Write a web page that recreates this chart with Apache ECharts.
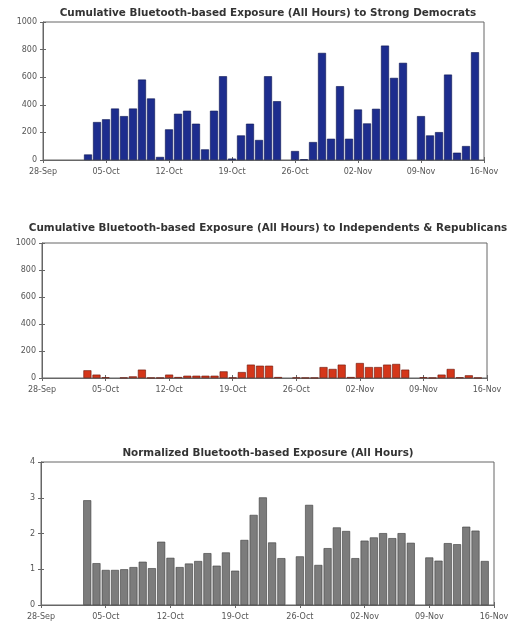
<!DOCTYPE html>
<html>
<head>
<meta charset="utf-8">
<script src="https://cdn.jsdelivr.net/npm/echarts@6/dist/echarts.min.js"></script>
<style>
  html, body { margin: 0; padding: 0; background: #fff; }
  #chart { width: 519px; height: 630px; }
</style>
</head>
<body>
<div id="chart"></div>
<script>
// Days are counted from 28-Sep; the first reading is on day 5 (03-Oct).
const firstDay = 5;
const weekTickLabels = ['28-Sep', '05-Oct', '12-Oct', '19-Oct', '26-Oct', '02-Nov', '09-Nov', '16-Nov'];

// Cumulative exposure to strong Democrats, one value per day (null = no data)
const democratExposure = [
  40, 275, 295, 373, 318, 373, 583, 446, 22, 222, 335, 357, 263, 77, 357, 607, 10,
  178, 263, 145, 607, 426, null, 65, 5, 130, 776, 154, 535, 154, 366, 265, 371,
  829, 595, 704, null, 318, 178, 202, 619, 53, 101, 781
];

// Cumulative exposure to independents & republicans
const otherExposure = [
  57, 25, 5, null, 3, 12, 62, 2, 2, 25, 7, 17, 17, 17, 17, 49, 3,
  44, 99, 91, 91, 7, null, 3, 2, 2, 81, 67, 99, 7, 111, 81, 81,
  99, 104, 62, null, 5, 2, 25, 67, 5, 20, 2
];

// Normalized exposure
const normalizedExposure = [
  2.93, 1.17, 0.98, 0.98, 1.0, 1.06, 1.21, 1.03, 1.77, 1.32, 1.06, 1.16, 1.23, 1.45, 1.1, 1.47, 0.96,
  1.82, 2.52, 3.01, 1.75, 1.31, null, 1.36, 2.80, 1.12, 1.59, 2.17, 2.07, 1.31, 1.80, 1.89, 2.01,
  1.87, 2.01, 1.74, null, 1.33, 1.24, 1.73, 1.70, 2.19, 2.08, 1.23
];

const panelTitles = [
  'Cumulative Bluetooth-based Exposure (All Hours) to Strong Democrats',
  'Cumulative Bluetooth-based Exposure (All Hours) to Independents & Republicans',
  'Normalized Bluetooth-based Exposure (All Hours)'
];

const toPoints = vals => vals.map((v, i) => [firstDay + i, v]);

const panels = [
  { grid: { left: 43, top: 22, width: 441, height: 138 }, yMax: 1000, yStep: 200,
    data: democratExposure, color: '#1d2d8e', edge: '#0a1450', titleTop: 3 },
  { grid: { left: 42, top: 243, width: 445, height: 135 }, yMax: 1000, yStep: 200,
    data: otherExposure, color: '#d4361a', edge: '#6a1408', titleTop: 218 },
  { grid: { left: 41, top: 462, width: 453, height: 143 }, yMax: 4, yStep: 1,
    data: normalizedExposure, color: '#7c7c7c', edge: '#3a3a3a', titleTop: 443 }
];

const fontFamily = '"DejaVu Sans", Verdana, sans-serif';
const labelStyle = { color: '#555', fontSize: 8, fontFamily };
const frameColor = '#666';

const option = {
  animation: false,
  backgroundColor: '#fff',
  title: [], grid: [], xAxis: [], yAxis: [], series: []
};

panels.forEach((p, k) => {
  option.title.push({
    text: panelTitles[k],
    left: 263, top: p.titleTop, textAlign: 'center',
    textStyle: { fontSize: 10.4, fontWeight: 'bold', color: '#333', fontFamily }
  });
  option.grid.push(Object.assign({ show: true, borderColor: frameColor, borderWidth: 1, backgroundColor: '#fff' }, p.grid));

  // bottom axis with weekly date labels
  option.xAxis.push({
    type: 'value', gridIndex: k, min: 0, max: 49, interval: 7,
    axisLine: { show: true, onZero: false, lineStyle: { color: frameColor } },
    axisTick: { show: true, inside: true, length: 3, lineStyle: { color: frameColor } },
    axisLabel: Object.assign({ margin: 8, formatter: v => weekTickLabels[Math.round(v / 7)] || '' }, labelStyle),
    splitLine: { show: false }
  });
  // top axis carrying only the mirrored tick marks
  option.xAxis.push({
    type: 'value', gridIndex: k, position: 'top', min: 0, max: 49, interval: 7,
    axisLine: { show: false },
    axisTick: { show: true, inside: true, length: 3, lineStyle: { color: frameColor } },
    axisLabel: { show: false }, splitLine: { show: false }
  });
  option.yAxis.push({
    type: 'value', gridIndex: k, min: 0, max: p.yMax, interval: p.yStep,
    axisLine: { show: true, lineStyle: { color: frameColor } },
    axisTick: { show: true, inside: true, length: 3, lineStyle: { color: frameColor } },
    axisLabel: Object.assign({ margin: 6, formatter: v => String(v) }, labelStyle),
    splitLine: { show: false }
  });
  option.yAxis.push({
    type: 'value', gridIndex: k, position: 'right', min: 0, max: p.yMax, interval: p.yStep,
    axisLine: { show: false },
    axisTick: { show: true, inside: true, length: 3, lineStyle: { color: frameColor } },
    axisLabel: { show: false }, splitLine: { show: false }
  });

  option.series.push({
    type: 'bar',
    xAxisIndex: 2 * k, yAxisIndex: 2 * k,
    data: toPoints(p.data),
    barWidth: 8,
    itemStyle: { color: p.color, borderColor: p.edge, borderWidth: 0.6 },
    silent: true
  });
});

const chart = echarts.init(document.getElementById('chart'), null, { renderer: 'canvas' });
chart.setOption(option);
</script>
</body>
</html>
